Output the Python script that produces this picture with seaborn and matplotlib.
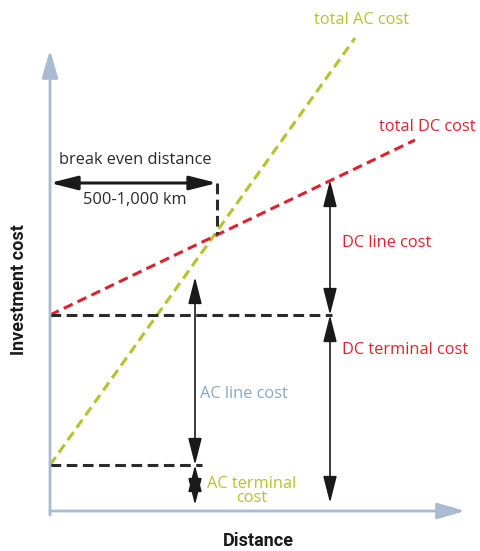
import matplotlib
matplotlib.use("Agg")
import matplotlib.pyplot as plt
import seaborn as sns

# ====== data (distance / cost in arbitrary units, origin at the axes corner) ======
ac_dist = [0, 305]
ac_cost = [46, 473]
dc_dist = [0, 365]
dc_cost = [196, 371]

ac_terminal = 46
dc_terminal = 196
breakeven_dist = 167
breakeven_level = 328
breakeven_cross = 277

ac_arrow_dist = 145
ac_arrow_top = 234
dc_arrow_dist = 280
dc_arrow_top = 331

axis_x_end = 415
axis_y_end = 461

OLIVE = "#b4c42c"
RED = "#e0222e"
BLUE = "#a8bbd0"
TEXTBLUE = "#8aa7c2"
DARK = "#2a2a2a"

sns.set_style("white")
plt.rcParams["font.family"] = ["Open Sans", "DejaVu Sans"]

fig = plt.figure(figsize=(4.8, 5.51), dpi=100)
ax = fig.add_axes([0, 0, 1, 1])
ax.set_xlim(-50, 430)
ax.set_ylim(-40, 511)
ax.axis("off")

# --- axes with arrows ---
axis_style = dict(arrowstyle="-|>,head_length=1.3,head_width=0.38",
                  color=BLUE, lw=2, mutation_scale=13, shrinkA=0, shrinkB=0)
ax.annotate("", xy=(0, axis_y_end), xytext=(0, -4), arrowprops=axis_style)
ax.annotate("", xy=(axis_x_end, 0), xytext=(0, 0), arrowprops=axis_style)

# --- cost lines ---
sns.lineplot(x=ac_dist, y=ac_cost, ax=ax, color=OLIVE, lw=2.2,
             linestyle=(0, (3.2, 1.8)), estimator=None, sort=False)
sns.lineplot(x=dc_dist, y=dc_cost, ax=ax, color=RED, lw=2.2,
             linestyle=(0, (3.2, 1.8)), estimator=None, sort=False)

# --- terminal level guides ---
guide = dict(ax=ax, color=DARK, lw=2.2, linestyle=(0, (3.5, 1.8)),
             estimator=None, sort=False)
sns.lineplot(x=[0, dc_arrow_dist + 2], y=[dc_terminal, dc_terminal], **guide)
sns.lineplot(x=[0, ac_arrow_dist + 7], y=[ac_terminal, ac_terminal], **guide)
sns.lineplot(x=[breakeven_dist, breakeven_dist],
             y=[breakeven_level, breakeven_cross], **guide)


def dim_arrow(p0, p1, lw=1.2):
    ax.annotate("", xy=p1, xytext=p0,
                arrowprops=dict(arrowstyle="<|-|>,head_length=1.5,head_width=0.38",
                                color="#1a1a1a", lw=lw, mutation_scale=11,
                                shrinkA=0, shrinkB=0))


dim_arrow((0, breakeven_level), (breakeven_dist, breakeven_level), lw=2.2)
dim_arrow((dc_arrow_dist, dc_arrow_top), (dc_arrow_dist, dc_terminal))
dim_arrow((dc_arrow_dist, dc_terminal), (dc_arrow_dist, 8))
dim_arrow((ac_arrow_dist, ac_arrow_top), (ac_arrow_dist, ac_terminal))
dim_arrow((ac_arrow_dist, ac_terminal), (ac_arrow_dist, 6))

# --- labels ---
fs = 11.8
ax.text(312, 491, "total AC cost", color=OLIVE, fontsize=fs, ha="center", va="center")
ax.text(377, 384, "total DC cost", color=RED, fontsize=fs, ha="center", va="center")
ax.text(85, 351, "break even distance", color=DARK, fontsize=fs, ha="center", va="center")
ax.text(85, 311, "500-1,000 km", color=DARK, fontsize=fs, ha="center", va="center")
ax.text(292, 268, "DC line cost", color=RED, fontsize=fs, ha="left", va="center")
ax.text(292, 161, "DC terminal cost", color=RED, fontsize=fs, ha="left", va="center")
ax.text(150, 117, "AC line cost", color=TEXTBLUE, fontsize=fs, ha="left", va="center")
ax.text(202, 20, "AC terminal\ncost", color=OLIVE, fontsize=fs, ha="center",
        va="center", linespacing=0.85)
ax.text(-31, 221, "Investment cost", color="#1a1a1a", fontsize=13,
        fontweight="bold", rotation=90, ha="center", va="center",
        family=["Roboto", "DejaVu Sans"])
ax.text(208, -30, "Distance", color="#1a1a1a", fontsize=13,
        fontweight="bold", ha="center", va="center",
        family=["Roboto", "DejaVu Sans"])

fig.savefig("out.png", dpi=100)
